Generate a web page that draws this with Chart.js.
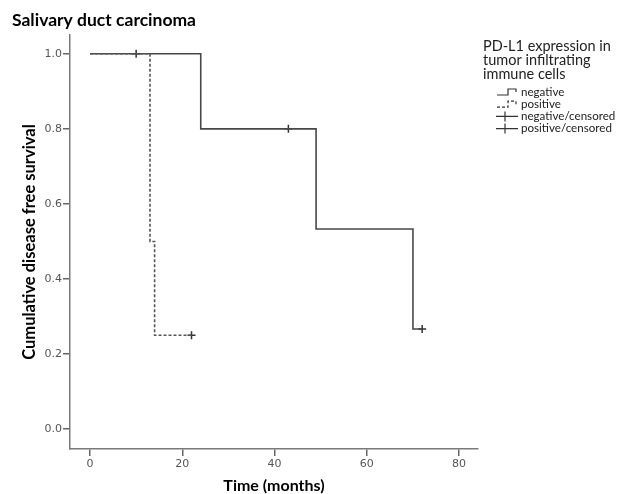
<!DOCTYPE html>
<html>
<head>
<meta charset="utf-8">
<style>
  html, body { margin: 0; padding: 0; background: #fff; }
  #wrap { width: 617px; height: 494px; }
</style>
<script src="https://cdn.jsdelivr.net/npm/chart.js@4.4.1/dist/chart.umd.min.js"></script>
</head>
<body>
<div id="wrap"><canvas id="km"></canvas></div>
<script>
// Kaplan-Meier steps
const negTime = [0, 24, 49, 70, 72];
const negSurv = [1.0, 0.8, 0.5333, 0.2667, 0.2667];
const posTime = [0, 13, 14, 22];
const posSurv = [1.0, 0.5, 0.25, 0.25];

// censored observations
const negCensTime = [43, 72];
const negCensSurv = [0.8, 0.2667];
const posCensTime = [10, 22];
const posCensSurv = [1.0, 0.25];

const xTicks = [0, 20, 40, 60, 80];
const yTicks = [0.0, 0.2, 0.4, 0.6, 0.8, 1.0];

const chartTitle = "Salivary duct carcinoma";
const xTitle = "Time (months)";
const yTitle = "Cumulative disease free survival";
const legendTitle = ["PD-L1 expression in", "tumor infiltrating", "immune cells"];
const legendLabels = ["negative", "positive", "negative/censored", "positive/censored"];

function pts(xs, ys) {
    return xs.map((x, i) => ({ x: x, y: ys[i] }));
}

const lineCol = '#474747';

// legend on the right, drawn like the SPSS one
const kmLegend = {
    id: 'kmLegend',
    afterDraw(chart) {
        const ctx = chart.ctx;
        const x0 = chart.chartArea.right + 5;
        ctx.save();
        ctx.fillStyle = '#222';
        ctx.textBaseline = 'middle';
        ctx.textAlign = 'left';
        ctx.font = '14.5px Lato';
        legendTitle.forEach((t, i) => ctx.fillText(t, x0, 46 + i * 14));

        ctx.font = '11.6px Lato';
        const sx = x0 + 14;
        legendLabels.forEach((lab, i) => {
            const y = 92 + i * 12.2;
            ctx.strokeStyle = '#333';
            ctx.lineWidth = 1.2;
            ctx.beginPath();
            if (i < 2) {
                ctx.setLineDash(i === 1 ? [3, 2] : []);
                ctx.moveTo(sx, y + 3);
                ctx.lineTo(sx + 11, y + 3);
                ctx.lineTo(sx + 11, y - 3);
                ctx.lineTo(sx + 19, y - 3);
                ctx.lineTo(sx + 19, y);
            } else {
                ctx.setLineDash([]);
                ctx.moveTo(sx - 1, y);
                ctx.lineTo(sx + 21, y);
                ctx.moveTo(sx + 8, y - 5);
                ctx.lineTo(sx + 8, y + 5);
            }
            ctx.stroke();
            ctx.setLineDash([]);
            ctx.fillText(lab, sx + 24, y);
        });
        ctx.restore();
    }
};

new Chart(document.getElementById('km'), {
    type: 'line',
    data: {
        datasets: [
            {
                label: 'positive',
                data: pts(posTime, posSurv),
                stepped: 'before',
                borderColor: '#555',
                borderWidth: 1.6,
                borderDash: [3, 2],
                pointRadius: 0,
                fill: false
            },
            {
                label: 'negative',
                data: pts(negTime, negSurv),
                stepped: 'before',
                borderColor: lineCol,
                borderWidth: 1.6,
                pointRadius: 0,
                fill: false
            },
            {
                label: 'negative/censored',
                data: pts(negCensTime, negCensSurv),
                showLine: false,
                pointStyle: 'cross',
                pointRadius: 4,
                borderColor: '#333',
                pointBorderWidth: 1.5
            },
            {
                label: 'positive/censored',
                data: pts(posCensTime, posCensSurv),
                showLine: false,
                pointStyle: 'cross',
                pointRadius: 4,
                borderColor: '#333',
                pointBorderWidth: 1.5
            }
        ]
    },
    options: {
        responsive: true,
        maintainAspectRatio: false,
        animation: false,
        layout: { padding: { left: 12, right: 139, top: 0, bottom: 0 } },
        plugins: {
            legend: { display: false },
            tooltip: { enabled: false },
            title: {
                display: true,
                text: chartTitle,
                align: 'start',
                color: '#000',
                font: { family: 'Lato', size: 17.5, weight: 'bold', lineHeight: 1.2 },
                padding: { top: 10, bottom: 4 }
            }
        },
        scales: {
            x: {
                type: 'linear',
                min: -4.34,
                max: 84.1,
                afterBuildTicks: s => { s.ticks = xTicks.map(v => ({ value: v })); },
                afterFit: s => { s.height = 45; },
                grid: { drawOnChartArea: false, drawTicks: true, tickLength: 7, color: '#666', lineWidth: 1.5 },
                border: { display: true, color: '#7a7a7a', width: 1.5 },
                ticks: { color: '#555', padding: 2, font: { family: 'DejaVu Sans', size: 11 } },
                title: {
                    display: true,
                    text: xTitle,
                    color: '#000',
                    font: { family: 'Lato', size: 16, weight: 'bold', lineHeight: 1 },
                    padding: { top: 0, bottom: 0 }
                }
            },
            y: {
                type: 'linear',
                min: -0.053,
                max: 1.05,
                afterBuildTicks: s => { s.ticks = yTicks.map(v => ({ value: v })); },
                afterFit: s => { s.width = 58; },
                grid: { drawOnChartArea: false, drawTicks: true, tickLength: 7, color: '#666', lineWidth: 1.5 },
                border: { display: true, color: '#7a7a7a', width: 1.5 },
                ticks: {
                    color: '#555',
                    padding: 1,
                    font: { family: 'DejaVu Sans', size: 11 },
                    callback: v => v.toFixed(1)
                },
                title: {
                    display: true,
                    text: yTitle,
                    color: '#000',
                    font: { family: 'Lato', size: 16.5, weight: 'bold', lineHeight: 1 },
                    padding: { top: 9, bottom: 0 }
                }
            }
        }
    },
    plugins: [kmLegend]
});
</script>
</body>
</html>
